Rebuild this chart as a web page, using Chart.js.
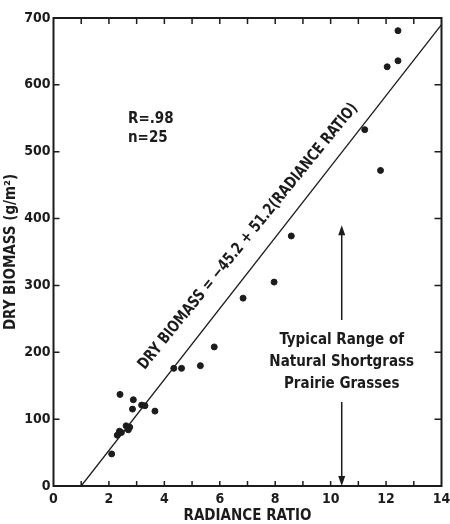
<!DOCTYPE html>
<html>
<head>
<meta charset="utf-8">
<script src="https://cdn.jsdelivr.net/npm/chart.js@4"></script>
<style>
  html, body { margin: 0; padding: 0; background: #fff; overflow: hidden; }
  #wrap { width: 450px; height: 524px; }
</style>
</head>
<body>
<div id="wrap"><canvas id="biomassChart"></canvas></div>
<script>
// values
const radianceRatio = [2.10, 2.30, 2.38, 2.45, 2.40, 2.62, 2.70, 2.75, 2.85, 2.88, 3.18, 3.30, 3.66,
  4.34, 4.62, 5.30, 5.80, 6.84, 7.96, 8.58, 11.23, 11.80, 12.04, 12.43, 12.43];
const dryBiomass = [48, 76, 82, 80, 137, 90, 84, 88, 115, 129, 121, 120, 112,
  176, 176, 180, 208, 281, 305, 374, 533, 472, 627, 636, 681];

const fitLineX = [1.0, 14];
const fitLineY = [0, 690];

const xTicks = [0, 2, 4, 6, 8, 10, 12, 14];
const yTicks = [0, 100, 200, 300, 400, 500, 600, 700];

const rangeArrowX = 10.4;
const rangeArrowY = [0, 390];
const rangeText = ['Typical Range of', 'Natural Shortgrass', 'Prairie Grasses'];
const statsText = ['R=.98', 'n=25'];
const equationText = 'DRY BIOMASS = \u221245.2 + 51.2(RADIANCE RATIO)';

const ink = '#1c1c1c';
const fontFamily = '"DejaVu Sans Condensed", "DejaVu Sans", sans-serif';

const ctx = document.getElementById('biomassChart').getContext('2d');

const extrasPlugin = {
  id: 'extras',
  afterDraw(chart) {
    const c = chart.ctx;
    const area = chart.chartArea;
    const xs = chart.scales.x;
    const ys = chart.scales.y;
    c.save();
    c.strokeStyle = ink;
    c.fillStyle = ink;

    // frame
    c.lineWidth = 2;
    c.strokeRect(area.left, area.top, area.right - area.left, area.bottom - area.top);

    // inward ticks
    c.lineWidth = 1.5;
    c.beginPath();
    for (let v = 1; v < 14; v++) {
      const px = xs.getPixelForValue(v);
      c.moveTo(px, area.bottom); c.lineTo(px, area.bottom - 5);
      c.moveTo(px, area.top); c.lineTo(px, area.top + 6);
    }
    for (let v = 100; v < 700; v += 100) {
      const py = ys.getPixelForValue(v);
      c.moveTo(area.left, py); c.lineTo(area.left + 6, py);
      c.moveTo(area.right, py); c.lineTo(area.right - 7, py);
    }
    c.stroke();

    // stats
    c.font = 'bold 15px ' + fontFamily;
    c.textAlign = 'left';
    c.textBaseline = 'middle';
    c.fillText(statsText[0], 128, 119);
    c.fillText(statsText[1], 128, 138);

    // equation along the fit line
    const x0 = xs.getPixelForValue(fitLineX[0]), y0 = ys.getPixelForValue(fitLineY[0]);
    const x1 = xs.getPixelForValue(fitLineX[1]), y1 = ys.getPixelForValue(fitLineY[1]);
    const len = Math.hypot(x1 - x0, y1 - y0);
    const ux = (x1 - x0) / len, uy = (y1 - y0) / len;
    const t = (xs.getPixelForValue(7.65) - x0) / ux;
    const cx = x0 + ux * t + uy * 22;
    const cy = y0 + uy * t - ux * 22;
    c.save();
    c.translate(cx, cy);
    c.rotate(Math.atan2(y1 - y0, x1 - x0) + 0.02);
    c.scale(0.87, 1);
    c.font = 'bold 16px ' + fontFamily;
    c.textAlign = 'center';
    c.fillText(equationText, 0, 0);
    c.restore();

    // range arrow with text
    const ax = xs.getPixelForValue(rangeArrowX);
    const aBottom = ys.getPixelForValue(rangeArrowY[0]);
    const aTop = ys.getPixelForValue(rangeArrowY[1]);
    const textTop = 320, textBottom = 402;
    c.lineWidth = 1.5;
    c.beginPath();
    c.moveTo(ax, aTop + 8); c.lineTo(ax, textTop);
    c.moveTo(ax, textBottom); c.lineTo(ax, aBottom - 8);
    c.stroke();
    c.beginPath();
    c.moveTo(ax, aTop); c.lineTo(ax - 3.5, aTop + 10); c.lineTo(ax + 3.5, aTop + 10); c.closePath();
    c.moveTo(ax, aBottom); c.lineTo(ax - 3.5, aBottom - 10); c.lineTo(ax + 3.5, aBottom - 10); c.closePath();
    c.fill();

    c.font = 'bold 15px ' + fontFamily;
    c.textAlign = 'center';
    rangeText.forEach((line, i) => {
      c.fillText(line, ax, 340 + i * 22);
    });
    c.restore();
  }
};

const biomassChart = new Chart(ctx, {
  type: 'scatter',
  data: {
    datasets: [{
      label: 'Samples',
      data: radianceRatio.map((x, i) => ({ x: x, y: dryBiomass[i] })),
      backgroundColor: ink,
      borderColor: ink,
      pointRadius: 3,
      pointHoverRadius: 3
    },
    {
      label: 'Fit',
      data: fitLineX.map((x, i) => ({ x: x, y: fitLineY[i] })),
      showLine: true,
      borderColor: ink,
      borderWidth: 1.3,
      pointRadius: 0,
      fill: false
    }]
  },
  options: {
    animation: false,
    responsive: true,
    maintainAspectRatio: false,
    layout: {
      autoPadding: false,
      padding: { top: 18, right: 8.5, left: 0, bottom: 0 }
    },
    plugins: {
      legend: { display: false },
      tooltip: { enabled: false }
    },
    scales: {
      x: {
        type: 'linear',
        min: 0,
        max: 14,
        afterBuildTicks: (scale) => { scale.ticks = xTicks.map(v => ({ value: v })); },
        afterFit: (scale) => {
          scale.height = 38;
          scale.paddingLeft = 0;
          scale.paddingRight = 0;
        },
        grid: { display: false, drawTicks: false },
        border: { display: false },
        ticks: {
          maxRotation: 0,
          padding: 5,
          color: ink,
          font: { family: fontFamily, size: 14, weight: 'bold' }
        },
        title: {
          display: true,
          text: 'RADIANCE RATIO',
          color: ink,
          padding: 0,
          font: { family: fontFamily, size: 15, weight: 'bold', lineHeight: 1 }
        }
      },
      y: {
        type: 'linear',
        min: 0,
        max: 700,
        afterBuildTicks: (scale) => { scale.ticks = yTicks.map(v => ({ value: v })); },
        afterFit: (scale) => {
          scale.width = 53.5;
          scale.paddingTop = 0;
          scale.paddingBottom = 0;
        },
        grid: { display: false, drawTicks: false },
        border: { display: false },
        ticks: {
          padding: 3,
          color: ink,
          font: { family: fontFamily, size: 14, weight: 'bold' }
        },
        title: {
          display: true,
          text: 'DRY BIOMASS (g/m\u00b2)',
          color: ink,
          padding: { top: 4, bottom: 0 },
          font: { family: fontFamily, size: 15, weight: 'bold', lineHeight: 1 }
        }
      }
    }
  },
  plugins: [extrasPlugin]
});
</script>
</body>
</html>
